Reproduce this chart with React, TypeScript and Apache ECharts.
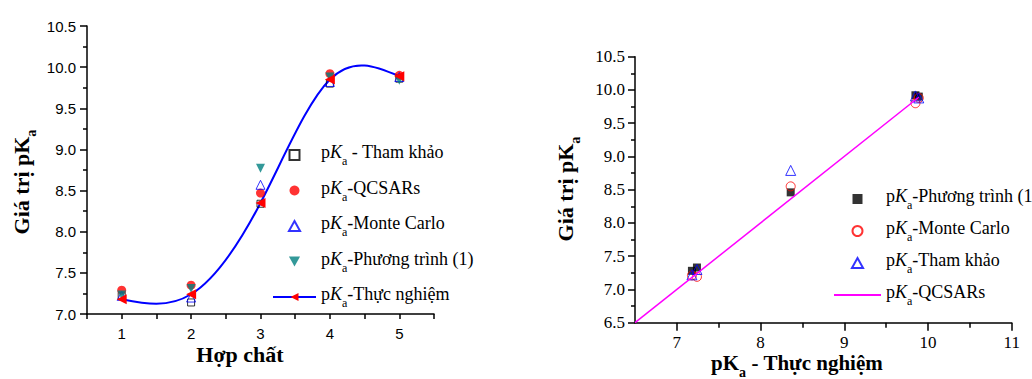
import React, { useEffect, useRef } from 'react';
import * as echarts from 'echarts';

// ---------- Left chart data (x = compound index) ----------
const compounds = [1, 2, 3, 4, 5];
const thamKhao = [7.22, 7.14, 8.34, 9.8, 9.86];
const qcsars = [7.29, 7.35, 8.47, 9.92, 9.9];
const monteCarlo = [7.22, 7.2, 8.57, 9.82, 9.88];
const phuongTrinh = [7.23, 7.31, 8.77, 9.88, 9.84];
const thucNghiem = [7.18, 7.24, 8.35, 9.85, 9.89];

// ---------- Right chart data (x = experimental pKa) ----------
const expPka = [7.18, 7.24, 8.36, 9.85, 9.89];
const rPhuongTrinh = [7.28, 7.33, 8.46, 9.92, 9.9];
const rMonteCarlo = [7.21, 7.19, 8.55, 9.8, 9.88];
const rThamKhao = [7.22, 7.3, 8.79, 9.91, 9.88];
const fitX = [6.5, 9.89];
const fitY = [6.5, 9.89];

const leftXTicks = [1, 2, 3, 4, 5];
const rightXMajor = [7, 8, 9, 10, 11];
const rightXMinor = [7.5, 8.5, 9.5, 10.5];

const serif = '"Liberation Serif", "Times New Roman", serif';
const sans = '"Liberation Sans", Arial, sans-serif';

const SQUARE_ICON = 'path://M0,0L10,0L10,10L0,10Z';
const TRIANGLE_ICON = 'path://M5,0L10,9L0,9Z';
const TRIANGLE_DOWN_ICON = 'path://M0,0L10,0L5,9Z';

const zip = (xs: number[], ys: number[]) => xs.map((x, i) => [x, ys[i]]);

// natural cubic spline second derivatives (the curve drawn through the measured points)
function splineM(xs: number[], ys: number[]): number[] {
  const n = xs.length;
  const M = new Array(n).fill(0);
  if (n < 3) return M;
  const a: number[] = [], b: number[] = [], c: number[] = [], d: number[] = [];
  for (let i = 1; i < n - 1; i++) {
    const h0 = xs[i] - xs[i - 1], h1 = xs[i + 1] - xs[i];
    a.push(h0); b.push(2 * (h0 + h1)); c.push(h1);
    d.push(6 * ((ys[i + 1] - ys[i]) / h1 - (ys[i] - ys[i - 1]) / h0));
  }
  const m = b.length;
  for (let i = 1; i < m; i++) {
    const w = a[i] / b[i - 1];
    b[i] -= w * c[i - 1];
    d[i] -= w * d[i - 1];
  }
  const sol = new Array(m).fill(0);
  sol[m - 1] = d[m - 1] / b[m - 1];
  for (let i = m - 2; i >= 0; i--) sol[i] = (d[i] - c[i] * sol[i + 1]) / b[i];
  for (let i = 0; i < m; i++) M[i + 1] = sol[i];
  return M;
}

const legendRich = (size: number) => ({
  n: { fontFamily: serif, fontSize: size, lineHeight: size + 6, verticalAlign: 'top', color: '#000' },
  k: { fontFamily: serif, fontSize: size, lineHeight: size + 6, verticalAlign: 'top', fontStyle: 'italic', color: '#000' },
  s: { fontFamily: serif, fontSize: Math.round(size * 0.65), lineHeight: 12, verticalAlign: 'bottom', color: '#000' },
});
const legendFmt = (name: string) => `{n|p}{k|K}{s|a}{n|${name.slice(3)}}`;

const boldRich = (size: number) => ({
  b: { fontFamily: serif, fontSize: size, fontWeight: 'bold', lineHeight: size + 6, verticalAlign: 'top', color: '#000' },
  s: { fontFamily: serif, fontSize: 14, fontWeight: 'bold', lineHeight: 14, verticalAlign: 'bottom', color: '#000' },
});

const open = 'rgba(255,255,255,0)';

function leftOption(): any {
  const names = ['pKa - Tham khảo', 'pKa-QCSARs', 'pKa-Monte Carlo', 'pKa-Phương trình (1)', 'pKa-Thực nghiệm'];
  const icons = [SQUARE_ICON, 'circle', TRIANGLE_ICON, TRIANGLE_DOWN_ICON, null];
  const M = splineM(compounds, thucNghiem);
  return {
    animation: false,
    grid: { left: 87, top: 26, width: 347, height: 288 },
    xAxis: {
      type: 'value', min: 0.5, max: 5.5, interval: 0.5,
      axisLine: { lineStyle: { color: '#000', width: 1.5 } },
      axisTick: { length: 5, lineStyle: { color: '#000', width: 1.5 } },
      axisLabel: {
        margin: 12, color: '#000', fontFamily: sans, fontSize: 15,
        formatter: (v: number) => (leftXTicks.includes(v) ? String(v) : ''),
      },
      splitLine: { show: false },
    },
    yAxis: {
      type: 'value', min: 7, max: 10.5, interval: 0.5,
      axisLine: { show: true, lineStyle: { color: '#000', width: 1.5 } },
      axisTick: { show: true, length: 7, lineStyle: { color: '#000', width: 1.5 } },
      minorTick: { show: true, splitNumber: 2, length: 4, lineStyle: { color: '#000', width: 1.5 } },
      axisLabel: { margin: 11, color: '#000', fontFamily: sans, fontSize: 15, formatter: (v: number) => v.toFixed(1) },
      splitLine: { show: false },
    },
    legend: {
      orient: 'vertical', left: 272, top: 143, itemWidth: 43, itemHeight: 10, itemGap: 11.5, padding: 0,
      symbolKeepAspect: true,
      data: names.map((n, i) =>
        i === 4
          ? { name: n, lineStyle: { color: '#0000ff', width: 2, opacity: 1 } }
          : { name: n, icon: icons[i], symbolRotate: 0 }
      ),
      formatter: legendFmt, textStyle: { rich: legendRich(18) },
    },
    graphic: [
      { type: 'text', x: 24, y: 182, rotation: Math.PI / 2, style: { text: '{b|Giá trị pK}{s|a}', rich: boldRich(22), align: 'center', verticalAlign: 'middle' } },
      { type: 'text', x: 240, y: 357, style: { text: '{b|Hợp chất}', rich: boldRich(22), align: 'center', verticalAlign: 'middle' } },
    ],
    series: [
      {
        type: 'custom', silent: true, data: zip(compounds, thucNghiem), encode: { x: 0, y: 1 }, z: 1,
        renderItem: (params: any, api: any) => {
          const i = params.dataIndex;
          if (i >= compounds.length - 1) return { type: 'group', children: [] };
          const x0 = compounds[i], x1 = compounds[i + 1];
          const y0 = thucNghiem[i], y1 = thucNghiem[i + 1];
          const h = x1 - x0;
          const s0 = (y1 - y0) / h - (h * (2 * M[i] + M[i + 1])) / 6;
          const s1 = (y1 - y0) / h + (h * (M[i] + 2 * M[i + 1])) / 6;
          const p0 = api.coord([x0, y0]);
          const c1 = api.coord([x0 + h / 3, y0 + (s0 * h) / 3]);
          const c2 = api.coord([x1 - h / 3, y1 - (s1 * h) / 3]);
          const p1 = api.coord([x1, y1]);
          return {
            type: 'bezierCurve',
            shape: { x1: p0[0], y1: p0[1], cpx1: c1[0], cpy1: c1[1], cpx2: c2[0], cpy2: c2[1], x2: p1[0], y2: p1[1] },
            style: { stroke: '#0000ff', lineWidth: 2, fill: null },
          };
        },
      },
      { name: names[0], type: 'scatter', data: zip(compounds, thamKhao), symbol: 'rect', symbolSize: 7,
        itemStyle: { color: open, borderColor: '#000', borderWidth: 1 } },
      { name: names[1], type: 'scatter', data: zip(compounds, qcsars), symbol: 'circle', symbolSize: 9,
        itemStyle: { color: '#ff0000' } },
      { name: names[2], type: 'scatter', data: zip(compounds, monteCarlo), symbol: 'triangle', symbolSize: 9,
        itemStyle: { color: open, borderColor: '#0000ff', borderWidth: 1 } },
      { name: names[3], type: 'scatter', data: zip(compounds, phuongTrinh), symbol: 'triangle', symbolRotate: 180, symbolSize: 9,
        itemStyle: { color: '#008080' } },
      { name: names[4], type: 'line', data: zip(compounds, thucNghiem), symbol: 'triangle', symbolRotate: 90, symbolSize: 10,
        showSymbol: true, itemStyle: { color: '#ff0000' }, lineStyle: { color: '#0000ff', width: 2, opacity: 0 }, z: 3 },
    ],
  };
}

function rightOption(): any {
  const names = ['pKa-Phương trình (1)', 'pKa-Monte Carlo', 'pKa-Tham khảo', 'pKa-QCSARs'];
  const icons = [SQUARE_ICON, 'circle', TRIANGLE_ICON, null];
  const axisCommon = { lineStyle: { color: '#000', width: 1.5 } };
  return {
    animation: false,
    grid: { left: 119, top: 56.7, width: 376.7, height: 266 },
    xAxis: [
      {
        type: 'value', min: 6.5, max: 11, interval: 0.5,
        axisLine: axisCommon,
        axisTick: { length: 5, customValues: rightXMinor, lineStyle: { color: '#000', width: 1.5 } },
        axisLabel: { show: false },
        splitLine: { show: false },
      },
      {
        type: 'value', min: 6.5, max: 11, interval: 0.5, position: 'bottom',
        axisLine: { show: false },
        axisTick: { length: 8, customValues: rightXMajor, lineStyle: { color: '#000', width: 1.5 } },
        axisLabel: { customValues: rightXMajor, margin: 11, color: '#000', fontFamily: serif, fontSize: 17 },
        splitLine: { show: false },
      },
    ],
    yAxis: {
      type: 'value', min: 6.5, max: 10.5, interval: 0.5,
      axisLine: { show: true, lineStyle: { color: '#000', width: 1.5 } },
      axisTick: { show: true, length: 7, lineStyle: { color: '#000', width: 1.5 } },
      minorTick: { show: true, splitNumber: 2, length: 4, lineStyle: { color: '#000', width: 1.5 } },
      axisLabel: { margin: 10, color: '#000', fontFamily: serif, fontSize: 17, formatter: (v: number) => v.toFixed(1) },
      splitLine: { show: false },
    },
    legend: {
      orient: 'vertical', left: 317, top: 187, itemWidth: 47, itemHeight: 10, itemGap: 8, padding: 0,
      symbolKeepAspect: true,
      data: names.map((n, i) =>
        i === 3
          ? { name: n, itemStyle: { color: 'rgba(0,0,0,0)', opacity: 0, borderWidth: 0 } }
          : { name: n, icon: icons[i], symbolRotate: 0 }
      ),
      formatter: legendFmt, textStyle: { rich: legendRich(18) },
    },
    graphic: [
      { type: 'text', x: 52, y: 189, rotation: Math.PI / 2, style: { text: '{b|Giá trị pK}{s|a}', rich: boldRich(22), align: 'center', verticalAlign: 'middle' } },
      { type: 'text', x: 281, y: 366, style: { text: '{b|pK}{s|a}{b| - Thực nghiệm}', rich: boldRich(21), align: 'center', verticalAlign: 'middle' } },
    ],
    series: [
      { name: names[3], type: 'line', data: zip(fitX, fitY), symbol: 'none', lineStyle: { color: '#ff00ff', width: 1.5 }, itemStyle: { color: '#ff00ff' } },
      { name: names[0], type: 'scatter', data: zip(expPka, rPhuongTrinh), symbol: 'rect', symbolSize: 8,
        itemStyle: { color: '#000' } },
      { name: names[1], type: 'scatter', data: zip(expPka, rMonteCarlo), symbol: 'circle', symbolSize: 9,
        itemStyle: { color: open, borderColor: '#ff0000', borderWidth: 1 } },
      { name: names[2], type: 'scatter', data: zip(expPka, rThamKhao), symbol: 'triangle', symbolSize: 10,
        itemStyle: { color: open, borderColor: '#0000ff', borderWidth: 1 } },
    ],
  };
}

function Chart({ option, style }: { option: any; style: React.CSSProperties }) {
  const ref = useRef<HTMLDivElement>(null);
  useEffect(() => {
    if (!ref.current) return;
    const chart = echarts.init(ref.current, undefined, { renderer: 'svg' });
    chart.setOption(option);
    return () => chart.dispose();
  }, []);
  return <div ref={ref} style={style} />;
}

export default function App() {
  return (
    <div style={{ position: 'fixed', left: 0, top: 0, width: 1032, height: 379, background: '#fff', overflow: 'hidden' }}>
      <Chart option={leftOption()} style={{ position: 'absolute', left: 0, top: 0, width: 516, height: 379 }} />
      <Chart option={rightOption()} style={{ position: 'absolute', left: 516, top: 0, width: 516, height: 379 }} />
    </div>
  );
}
